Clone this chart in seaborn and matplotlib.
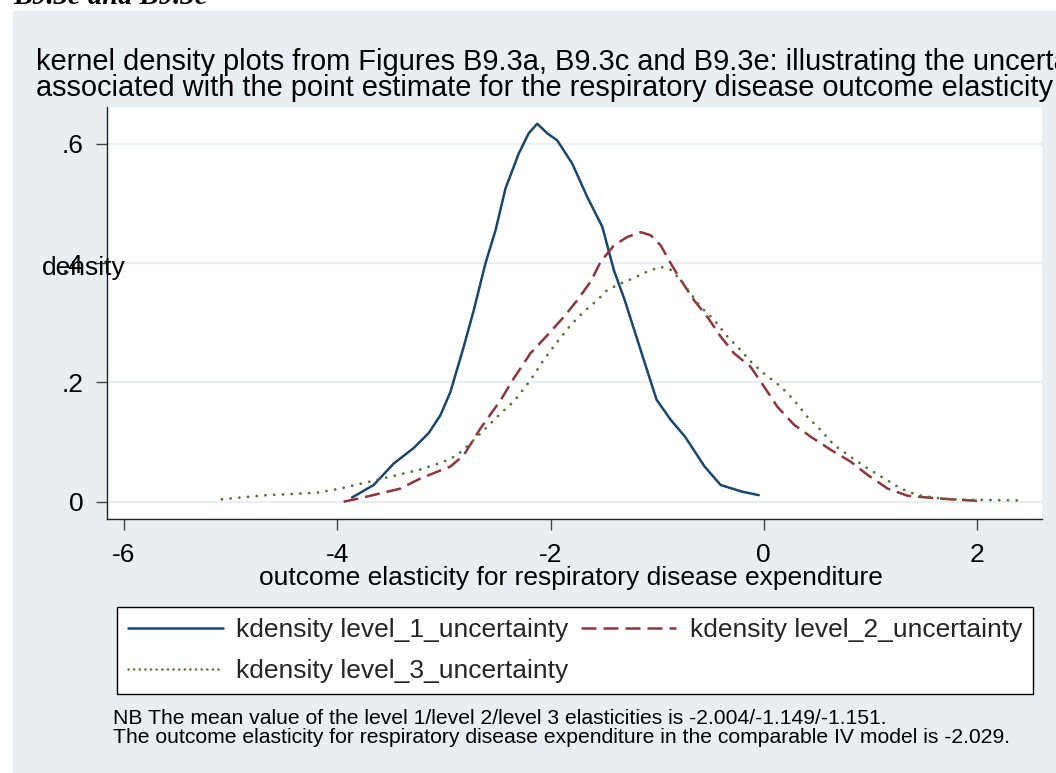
import matplotlib
matplotlib.use("Agg")
import matplotlib.pyplot as plt
from matplotlib.patches import Rectangle
from matplotlib.lines import Line2D
import seaborn as sns

# Kernel density estimates for the three uncertainty levels
level1_x = [-3.862, -3.659, -3.471, -3.284, -3.143, -3.033, -2.939, -2.814, -2.720, -2.610,
            -2.516, -2.423, -2.298, -2.204, -2.125, -2.031, -1.937, -1.796, -1.655, -1.514,
            -1.405, -1.304, -1.204, -1.104, -1.005, -0.871, -0.738, -0.555, -0.404, -0.206, -0.047]
level1_y = [0.007, 0.028, 0.064, 0.090, 0.115, 0.145, 0.184, 0.260, 0.321, 0.400,
            0.455, 0.525, 0.584, 0.618, 0.634, 0.618, 0.606, 0.567, 0.511, 0.461,
            0.388, 0.338, 0.282, 0.226, 0.171, 0.137, 0.109, 0.059, 0.028, 0.017, 0.011]

level2_x = [-3.941, -3.784, -3.596, -3.408, -3.221, -2.939, -2.814, -2.657, -2.469, -2.344,
            -2.188, -2.031, -1.875, -1.749, -1.624, -1.531, -1.405, -1.280, -1.155, -1.061,
            -0.967, -0.873, -0.779, -0.654, -0.529, -0.404, -0.279, -0.122, 0.003, 0.129,
            0.285, 0.441, 0.629, 0.817, 0.974, 1.162, 1.349, 1.537, 1.756, 2.056]
level2_y = [0.000, 0.006, 0.014, 0.022, 0.039, 0.059, 0.078, 0.123, 0.170, 0.207,
            0.249, 0.279, 0.310, 0.338, 0.369, 0.402, 0.430, 0.444, 0.452, 0.447,
            0.430, 0.400, 0.372, 0.338, 0.310, 0.277, 0.249, 0.226, 0.193, 0.159,
            0.129, 0.109, 0.087, 0.067, 0.045, 0.022, 0.010, 0.007, 0.004, 0.001]

level3_x = [-5.083, -4.848, -4.660, -4.410, -4.191, -3.972, -3.784, -3.596, -3.408, -3.221,
            -3.002, -2.876, -2.751, -2.626, -2.469, -2.344, -2.188, -2.063, -1.937, -1.812,
            -1.687, -1.561, -1.468, -1.343, -1.218, -1.092, -0.967, -0.873, -0.779, -0.685,
            -0.592, -0.467, -0.341, -0.216, -0.122, 0.003, 0.160, 0.285, 0.411, 0.535,
            0.660, 0.817, 0.974, 1.130, 1.286, 1.443, 1.599, 1.756, 2.069, 2.413]
level3_y = [0.004, 0.008, 0.011, 0.013, 0.015, 0.022, 0.030, 0.038, 0.046, 0.054,
            0.067, 0.078, 0.098, 0.120, 0.148, 0.168, 0.204, 0.238, 0.268, 0.296,
            0.319, 0.338, 0.355, 0.366, 0.375, 0.386, 0.394, 0.389, 0.372, 0.349,
            0.327, 0.305, 0.277, 0.254, 0.235, 0.215, 0.193, 0.170, 0.142, 0.120,
            0.095, 0.075, 0.056, 0.039, 0.022, 0.011, 0.007, 0.004, 0.003, 0.002]

series_labels = ["kdensity level_1_uncertainty",
                 "kdensity level_2_uncertainty",
                 "kdensity level_3_uncertainty"]
x_ticks = [-6, -4, -2, 0, 2]
x_tick_labels = ["-6", "-4", "-2", "0", "2"]
y_ticks = [0, 0.2, 0.4, 0.6]
y_tick_labels = ["0", ".2", ".4", ".6"]

title_text = ("kernel density plots from Figures B9.3a, B9.3c and B9.3e: illustrating the uncertainty\n"
              "associated with the point estimate for the respiratory disease outcome elasticity")
note_text = ("NB The mean value of the level 1/level 2/level 3 elasticities is -2.004/-1.149/-1.151.\n"
             "The outcome elasticity for respiratory disease expenditure in the comparable IV model is -2.029.")

sns.set_theme(style="white")
plt.rcParams["font.family"] = ["Liberation Sans", "DejaVu Sans"]

W, H = 1056, 773
BG = "#E8EEF1"
NAVY = "#1A476F"
MAROON = "#90353B"
GREEN = "#55752F"
FS = 19

fig = plt.figure(figsize=(W / 100, H / 100), dpi=100)
fig.patch.set_facecolor("white")
fig.patches.append(Rectangle((13 / W, 0), 1 - 13 / W, (H - 11) / H,
                             transform=fig.transFigure, facecolor=BG,
                             edgecolor="none", zorder=-5))

def fx(px):
    return px / W

def fy(py):
    return 1 - py / H

ax = fig.add_axes([fx(107), fy(519), (1042 - 107) / W, (519 - 107) / H])
ax.set_facecolor("white")

LW = 1.8
style1 = dict(color=NAVY, lw=LW, linestyle="-")
style2 = dict(color=MAROON, lw=LW, linestyle=(0, (6, 2.8)))
style3 = dict(color=GREEN, lw=2.0, linestyle=(0, (0.05, 3.1)), dash_capstyle="round")

for xs, ys, st in [(level1_x, level1_y, style1),
                   (level2_x, level2_y, style2),
                   (level3_x, level3_y, style3)]:
    sns.lineplot(x=xs, y=ys, ax=ax, sort=False, estimator=None, zorder=3, **st)

ax.set_xlim(-6.16, 2.61)
ax.set_ylim(-0.029, 0.662)
ax.set_xticks(x_ticks, x_tick_labels)
ax.set_yticks(y_ticks, y_tick_labels)
ax.set_xlabel("")
ax.set_ylabel("")
for yv in y_ticks:
    ax.axhline(yv, color=BG, lw=1.6, zorder=1)

for side in ["top", "right"]:
    ax.spines[side].set_visible(False)
for side in ["left", "bottom"]:
    ax.spines[side].set_color("#222222")
    ax.spines[side].set_linewidth(1.0)

ax.tick_params(axis="both", direction="out", length=8, width=1.0, color="#444444",
               labelsize=FS, labelcolor="black")
ax.tick_params(axis="y", pad=9, left=True)
ax.tick_params(axis="x", pad=9, bottom=True)

# Titles and axis captions
fig.text(fx(36), fy(48), title_text, ha="left", va="top", fontsize=20.9,
         linespacing=0.9, color="black")
fig.text(fx(42), fy(268), "density", ha="left", va="center", fontsize=FS, color="black")
fig.text(fx(571), fy(578), "outcome elasticity for respiratory disease expenditure",
         ha="center", va="center", fontsize=FS, color="black")
fig.text(fx(13), fy(3.5), "B9.3c and B9.3e", ha="left", va="baseline", fontsize=20.6,
         family="Liberation Serif", weight="bold", style="italic", color="black")

# Legend laid out row by row
handles = [Line2D([], [], **style1), Line2D([], [], **style2),
           Line2D([], [], color=GREEN, lw=LW, linestyle=(0, (0.05, 2.2)), dash_capstyle="round")]
order = [0, 2, 1]
leg = fig.legend([handles[i] for i in order], [series_labels[i] for i in order],
                 ncol=2, loc="upper left", mode="expand",
                 bbox_to_anchor=(fx(117), fy(694), (1033 - 117) / W, (694 - 607) / H),
                 bbox_transform=fig.transFigure, fontsize=FS, frameon=True,
                 fancybox=False, edgecolor="black", framealpha=1,
                 handlelength=3.6, handletextpad=0.5, columnspacing=0.8,
                 labelspacing=0.65, borderpad=0.42, borderaxespad=0)
leg.get_frame().set_linewidth(1.0)

fig.text(fx(113), fy(728), note_text, ha="left", va="center", fontsize=15.2,
         linespacing=1.0, color="black")

fig.savefig("out.png", dpi=100)
